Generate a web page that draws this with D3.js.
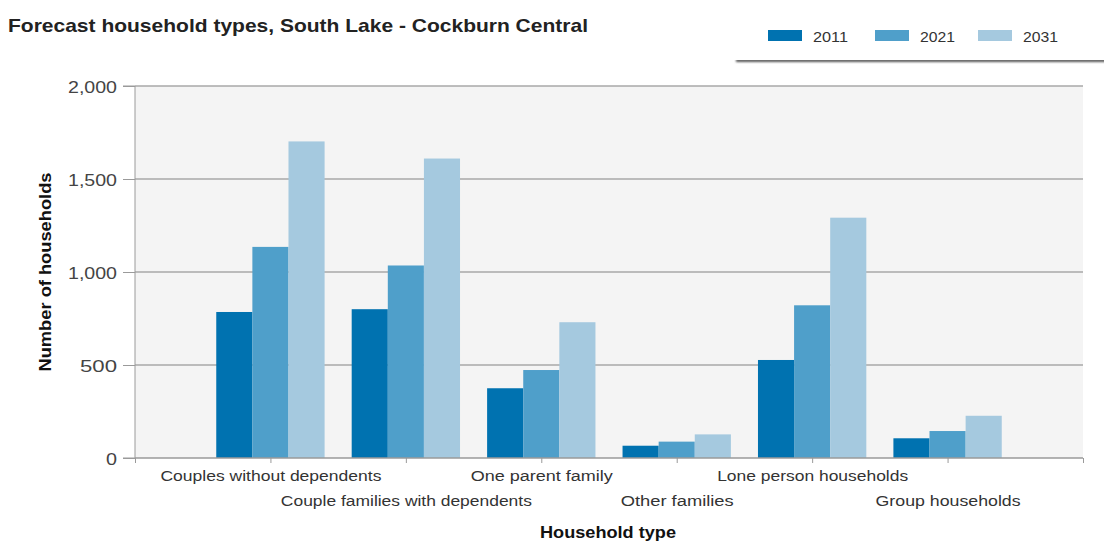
<!DOCTYPE html>
<html><head><meta charset="utf-8">
<script src="https://cdn.jsdelivr.net/npm/d3@7"></script>
<style>
html,body{margin:0;padding:0;background:#fff;}
svg{display:block;font-family:"Liberation Sans",Arial,sans-serif;}
</style></head>
<body><svg id="c" width="1104" height="541"></svg>
<script>
const categories = ["Couples without dependents","Couple families with dependents","One parent family","Other families","Lone person households","Group households"];
const years = ["2011","2021","2031"];
const v2011 = [785, 800, 375, 66, 527, 106];
const v2021 = [1135, 1035, 473, 88, 821, 145];
const v2031 = [1702, 1610, 730, 127, 1292, 227];
const yTicks = [0, 500, 1000, 1500, 2000];
const colors = ["#0072b0", "#4f9fca", "#a5c9df"];
const series = [v2011, v2021, v2031];

// measured rendered widths of text in the reference (px)
const catWidths = [221, 251, 142, 113, 191, 145];
const yTickWidths = {0: 11, 500: 37, 1000: 49, 1500: 49, 2000: 49};

const svg = d3.select("#c");
const L = 135, R = 1083, T = 86, B = 458;

svg.append("rect").attr("x", L).attr("y", T).attr("width", R - L).attr("height", B - T).attr("fill", "#f4f4f4");

const y = d3.scaleLinear().domain([0, 2000]).range([B, T]);
const slots = ["__start"].concat(categories, ["__end"]);
const xp = d3.scalePoint().domain(slots).range([L, R]);
const step = xp.step();
const x1 = d3.scaleBand().domain(years).range([-step * 0.4, step * 0.4]);

svg.append("g").selectAll("line").data(yTicks.filter(d => d > 0)).join("line")
  .attr("x1", L).attr("x2", R).attr("y1", d => y(d)).attr("y2", d => y(d))
  .attr("stroke", "#a8a8a8").attr("stroke-width", 1.5);

const g = svg.append("g");
categories.forEach((c, i) => {
  years.forEach((yr, j) => {
    const v = series[j][i];
    g.append("rect")
      .attr("x", xp(c) + x1(yr))
      .attr("width", x1.bandwidth())
      .attr("y", y(v))
      .attr("height", y(0) - y(v))
      .attr("fill", colors[j]);
  });
});

// y axis
const yAxis = d3.axisLeft(y).tickValues(yTicks).tickFormat(d3.format(",")).tickSize(12).tickPadding(5);
const ya = svg.append("g").attr("transform", `translate(${L},0)`).call(yAxis);
ya.select(".domain").attr("stroke", "#9a9a9a").attr("d", `M-12,${T}H0V${B}H-12`);
ya.selectAll(".tick line").attr("stroke", "#9a9a9a");
ya.selectAll(".tick text").attr("fill", "#444").style("font-size", "17px").style("font-family", "'Liberation Sans',Arial,sans-serif")
  .attr("x", -18).attr("dy", "0.36em")
  .attr("textLength", d => yTickWidths[d]).attr("lengthAdjust", "spacingAndGlyphs");

// x axis
const xAxis = d3.axisBottom(xp).tickValues(slots).tickSize(5).tickFormat(d => d.startsWith("__") ? "" : d);
const xa = svg.append("g").attr("transform", `translate(0,${B})`).call(xAxis);
xa.select(".domain").attr("stroke", "#9a9a9a").attr("stroke-width", 1.5).attr("d", `M${L},0H${R}`);
xa.selectAll(".tick line").attr("stroke", "#9a9a9a");
xa.selectAll(".tick text").attr("fill", "#333").style("font-size", "15.5px").style("font-family", "'Liberation Sans',Arial,sans-serif")
  .attr("dy", null)
  .attr("y", (d, i) => (i % 2 === 1 ? 23 : 48))
  .each(function(d) {
    const k = categories.indexOf(d);
    if (k >= 0) d3.select(this).attr("textLength", catWidths[k]).attr("lengthAdjust", "spacingAndGlyphs");
  });

// axis titles
svg.append("text").attr("x", 608).attr("y", 538).attr("text-anchor", "middle")
  .style("font-weight", "bold").style("font-size", "16.5px").attr("fill", "#111")
  .attr("textLength", 136).attr("lengthAdjust", "spacingAndGlyphs").text("Household type");
svg.append("text").attr("transform", "translate(51,272) rotate(-90)").attr("text-anchor", "middle")
  .style("font-weight", "bold").style("font-size", "16.5px").attr("fill", "#111")
  .attr("textLength", 199).attr("lengthAdjust", "spacingAndGlyphs").text("Number of households");

// title
svg.append("text").attr("x", 8).attr("y", 32)
  .style("font-weight", "bold").style("font-size", "18.5px").attr("fill", "#222")
  .attr("textLength", 580).attr("lengthAdjust", "spacingAndGlyphs")
  .text("Forecast household types, South Lake - Cockburn Central");

// legend
const defs = svg.append("defs");
const f = defs.append("filter").attr("id", "sh").attr("x", "-5%").attr("y", "-50%").attr("width", "110%").attr("height", "200%");
f.append("feGaussianBlur").attr("stdDeviation", 1.2);
svg.append("rect").attr("x", 736).attr("y", 59).attr("width", 380).attr("height", 3).attr("fill", "#555").attr("filter", "url(#sh)");
svg.append("rect").attr("x", 734).attr("y", 16).attr("width", 380).attr("height", 44).attr("fill", "#fff");
const lx = [768, 875, 978];
const lg = svg.append("g").selectAll("g").data(years).join("g")
  .attr("transform", (d, i) => `translate(${lx[i]},30)`);
lg.append("rect").attr("width", 34).attr("height", 11).attr("fill", (d, i) => colors[i]);
lg.append("text").attr("x", 45).attr("y", 11.5).style("font-size", "15px").attr("fill", "#333")
  .attr("textLength", 35).attr("lengthAdjust", "spacingAndGlyphs").text(d => d);
</script></body></html>
